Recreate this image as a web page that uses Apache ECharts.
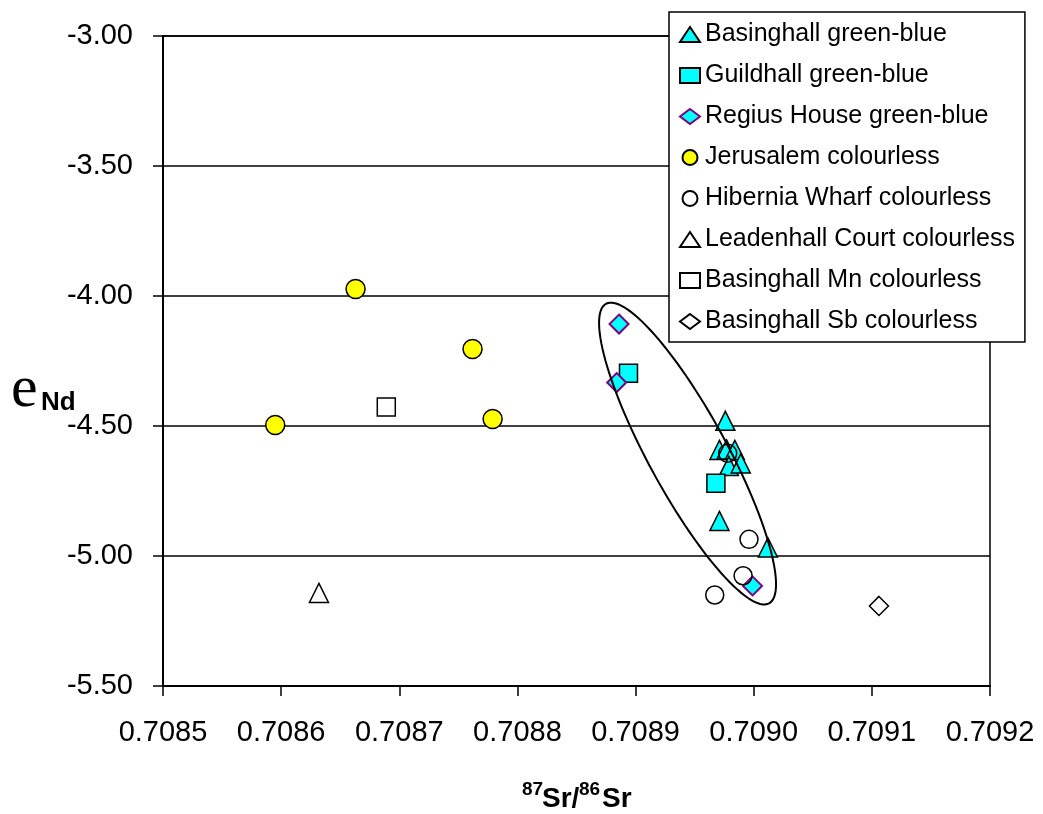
<!DOCTYPE html>
<html>
<head>
<meta charset="utf-8">
<script src="https://cdn.jsdelivr.net/npm/echarts@6/dist/echarts.min.js"></script>
<style>html,body{margin:0;padding:0;background:#fff;}#c{width:1043px;height:814px;}</style>
</head>
<body>
<div id="c"></div>
<script>
// ---- data (x = 87Sr/86Sr, y = eNd) ----
const xTicks = [0.7085, 0.7086, 0.7087, 0.7088, 0.7089, 0.7090, 0.7091, 0.7092];
const yTicks = [-5.5, -5.0, -4.5, -4.0, -3.5, -3.0];

const basinghallGB = [[0.708976,-4.480],[0.708971,-4.592],[0.708977,-4.590],[0.708984,-4.592],[0.708979,-4.654],[0.708989,-4.644],[0.708971,-4.865],[0.709012,-4.967]];
const guildhallGB = [[0.708894,-4.297],[0.708968,-4.720]];
const regiusGB = [[0.708886,-4.108],[0.708884,-4.333],[0.708999,-5.115]];
const jerusalem = [[0.708663,-3.973],[0.708762,-4.204],[0.708595,-4.496],[0.708779,-4.473]];
const hibernia = [[0.708978,-4.605],[0.708996,-4.936],[0.708991,-5.076],[0.708967,-5.150]];
const leadenhall = [[0.708632,-5.142]];
const basinghallMn = [[0.708689,-4.427]];
const basinghallSb = [[0.709106,-5.192]];
// ellipse annotation: centre x, centre y, tip x, tip y (data units), minor/major ratio
const ellipseDef = [[0.708944,-4.606,0.708875,-4.030]];
const ellipseRatio = 0.23;

const seriesNames = ['Basinghall green-blue','Guildhall green-blue','Regius House green-blue','Jerusalem colourless','Hibernia Wharf colourless','Leadenhall Court colourless','Basinghall Mn colourless','Basinghall Sb colourless'];

const FONT = '"Liberation Sans", Arial, sans-serif';
const CYAN = '#00FFFF';

function sc(name, data, symbol, size, fill, stroke, bw) {
  return {
    type: 'scatter', name: name, data: data, symbol: symbol, symbolSize: size,
    itemStyle: {color: fill, borderColor: stroke, borderWidth: bw, opacity: 1},
    emphasis: {disabled: true}
  };
}

const chart = echarts.init(document.getElementById('c'), null, {renderer: 'canvas'});
chart.setOption({
  animation: false,
  backgroundColor: '#fff',
  grid: {left: 163, right: 53, top: 36, bottom: 128, show: true, borderColor: '#000', borderWidth: 1.5, backgroundColor: 'transparent'},
  xAxis: {
    type: 'value', min: xTicks[0], max: xTicks[xTicks.length-1], interval: 0.0001,
    axisLine: {show: true, onZero: false, lineStyle: {color: '#000', width: 2}},
    axisTick: {show: true, length: 10, lineStyle: {color: '#000', width: 1.5}},
    axisLabel: {fontSize: 29, fontFamily: FONT, color: '#000', margin: 32, formatter: v => v.toFixed(4)},
    splitLine: {show: false}
  },
  yAxis: {
    type: 'value', min: yTicks[0], max: yTicks[yTicks.length-1], interval: 0.5,
    axisLine: {show: true, onZero: false, lineStyle: {color: '#000', width: 2}},
    axisTick: {show: true, length: 10, lineStyle: {color: '#000', width: 1.5}},
    axisLabel: {fontSize: 29, fontFamily: FONT, color: '#000', margin: 30, formatter: v => v.toFixed(2)},
    splitLine: {show: true, lineStyle: {color: '#000', width: 1.5}}
  },
  legend: {
    data: seriesNames, orient: 'vertical', left: 669, top: 12,
    backgroundColor: '#fff', borderColor: '#000', borderWidth: 1.5,
    padding: [10, 10, 8, 10], itemGap: 16, itemWidth: 20, itemHeight: 15,
    textStyle: {fontSize: 25, fontFamily: FONT, color: '#000', lineHeight: 25},
    selectedMode: false, z: 10
  },
  series: [
    sc(seriesNames[0], basinghallGB, 'triangle', 19, CYAN, '#000', 1.5),
    sc(seriesNames[1], guildhallGB, 'rect', 18, CYAN, '#000', 1.5),
    sc(seriesNames[2], regiusGB, 'diamond', 19, CYAN, '#800080', 2),
    sc(seriesNames[3], jerusalem, 'circle', 19, '#FFFF00', '#000', 1.5),
    sc(seriesNames[4], hibernia, 'circle', 18, 'rgba(255,255,255,0)', '#000', 1.5),
    sc(seriesNames[5], leadenhall, 'triangle', 19, '#fff', '#000', 1.5),
    sc(seriesNames[6], basinghallMn, 'rect', 18, '#fff', '#000', 1.5),
    sc(seriesNames[7], basinghallSb, 'diamond', 19, '#fff', '#000', 1.5),
    {
      type: 'custom', name: 'ellipse', data: ellipseDef, z: 5, silent: true,
      encode: {x: [0, 2], y: [1, 3]},
      renderItem: function (params, api) {
        const c = api.coord([api.value(0), api.value(1)]);
        const t = api.coord([api.value(2), api.value(3)]);
        const ax = t[0] - c[0], ay = t[1] - c[1];
        const bx = -ay * ellipseRatio, by = ax * ellipseRatio;
        const pts = [];
        for (let i = 0; i < 120; i++) {
          const a = i / 120 * Math.PI * 2;
          pts.push([c[0] + Math.cos(a) * ax + Math.sin(a) * bx, c[1] + Math.cos(a) * ay + Math.sin(a) * by]);
        }
        return {type: 'polygon', shape: {points: pts}, style: {fill: 'none', stroke: '#000', lineWidth: 2}};
      }
    }
  ],
  graphic: [
    {type: 'text', x: 522, y: 780, style: {text: '87', font: 'bold 19px ' + FONT, fill: '#000', verticalAlign: 'top'}},
    {type: 'text', x: 542, y: 785, style: {text: 'Sr/', font: 'bold 28px ' + FONT, fill: '#000', verticalAlign: 'top'}},
    {type: 'text', x: 579, y: 780, style: {text: '86', font: 'bold 19px ' + FONT, fill: '#000', verticalAlign: 'top'}},
    {type: 'text', x: 602, y: 785, style: {text: 'Sr', font: 'bold 28px ' + FONT, fill: '#000', verticalAlign: 'top'}},
    {type: 'text', x: 11, y: 360, style: {text: 'e', font: '60px "Liberation Serif", "Times New Roman", serif', fill: '#000', verticalAlign: 'top'}},
    {type: 'text', x: 41, y: 390, style: {text: 'Nd', font: 'bold 26px ' + FONT, fill: '#000', verticalAlign: 'top'}}
  ]
});
</script>
</body>
</html>
